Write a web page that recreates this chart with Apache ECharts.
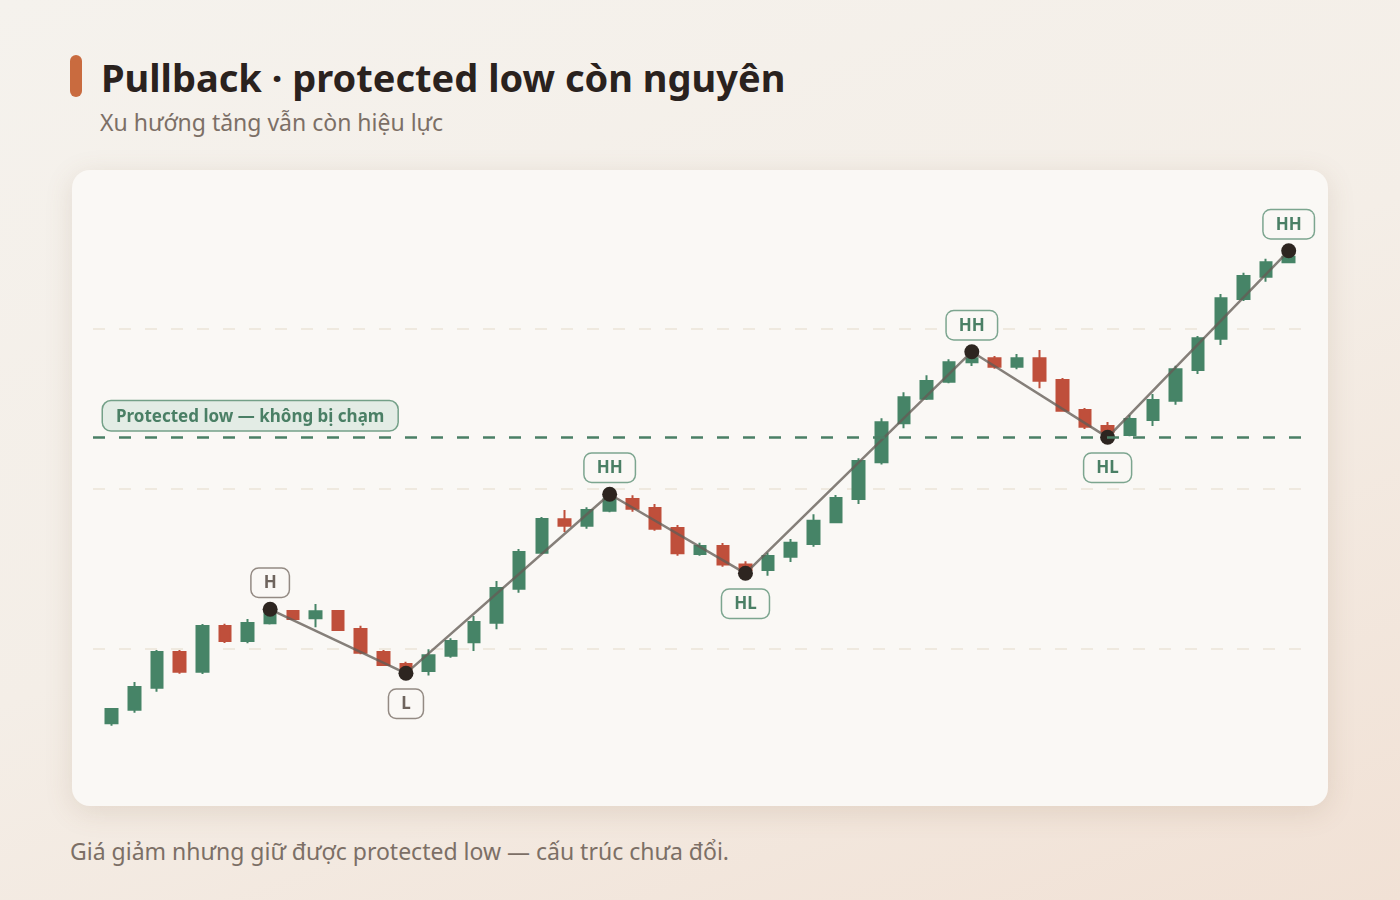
<!DOCTYPE html>
<html>
<head>
<meta charset="utf-8">
<script src="https://cdn.jsdelivr.net/npm/echarts@6/dist/echarts.min.js"></script>
<style>
	html, body { margin: 0; padding: 0; }
	body {
		width: 1400px; height: 900px; overflow: hidden; position: relative;
		font-family: "Noto Sans", sans-serif;
		background: linear-gradient(160deg, #f5f2ed 0%, #f4eee7 50%, #f1e1d5 100%);
	}
	.accent { position: absolute; left: 70px; top: 55px; width: 12px; height: 42px; border-radius: 6px; background: #c96b3f; }
	.title { position: absolute; left: 101px; top: 58px; font-size: 38px; line-height: 1; font-weight: 700; color: #2a221e; white-space: nowrap; }
	.subtitle { position: absolute; left: 100px; top: 111px; font-size: 23px; line-height: 1; color: #7c6f66; white-space: nowrap; }
	.card { position: absolute; left: 72px; top: 170px; width: 1256px; height: 636px; border-radius: 18px; background: #faf8f5; box-shadow: 0 6px 28px rgba(130, 95, 60, 0.15); }
	.footer { position: absolute; left: 70px; top: 840px; font-size: 23px; line-height: 1; color: #7c6f66; white-space: nowrap; }
	#MyChart { position: absolute; left: 0; top: 0; width: 1400px; height: 900px; }
</style>
</head>
<body>
<div class="accent"></div>
<div class="title">Pullback · protected low còn nguyên</div>
<div class="subtitle">Xu hướng tăng vẫn còn hiệu lực</div>
<div class="card"></div>
<div class="footer">Giá giảm nhưng giữ được protected low — cấu trúc chưa đổi.</div>
<div id="MyChart"></div>
<script>
// nến theo phiên
var categories = ['1', '2', '3', '4', '5', '6', '7', '8', '9', '10', '11', '12', '13', '14', '15', '16', '17', '18',
	'19', '20', '21', '22', '23', '24', '25', '26', '27', '28', '29', '30', '31', '32', '33', '34', '35', '36',
	'37', '38', '39', '40', '41', '42', '43', '44', '45', '46', '47', '48', '49', '50', '51', '52', '53'];
var opens = [95.36, 96.21, 97.58, 99.81, 98.58, 101.44, 100.50, 101.61, 102.38, 101.92, 102.38, 101.25, 99.81,
	99.06, 98.63, 99.58, 100.42, 101.64, 103.77, 106.02, 108.11, 107.71, 108.64, 109.38, 108.81, 107.56, 105.94,
	106.44, 105.28, 104.94, 105.77, 106.56, 107.92, 109.38, 111.67, 114.11, 115.64, 116.71, 117.92, 118.17, 117.64,
	118.17, 116.81, 114.94, 113.94, 113.38, 114.31, 115.52, 117.44, 119.39, 121.88, 123.27, 124.17];
var closes = [96.25, 97.63, 99.81, 98.58, 101.44, 100.50, 101.63, 102.27, 101.88, 102.36, 101.19, 99.77, 99.00,
	98.75, 99.61, 100.50, 101.69, 103.81, 106.06, 108.13, 107.71, 108.69, 109.36, 108.77, 107.52, 105.98, 106.44,
	105.28, 104.94, 105.81, 106.64, 108.02, 109.44, 111.75, 114.17, 115.73, 116.75, 117.92, 118.17, 117.64, 118.17,
	116.77, 114.89, 113.89, 113.56, 114.38, 115.56, 117.48, 119.42, 121.92, 123.31, 124.17, 124.52];
var lows = [95.21, 96.02, 97.33, 98.46, 98.44, 100.38, 100.36, 101.53, 101.84, 101.36, 101.14, 99.67, 98.94,
	98.48, 98.35, 99.46, 99.88, 101.23, 103.52, 105.94, 107.31, 107.52, 108.54, 108.58, 107.39, 105.83, 105.83,
	105.14, 104.73, 104.58, 105.44, 106.39, 107.86, 109.06, 111.53, 113.79, 115.56, 116.61, 117.69, 117.52, 117.48,
	116.29, 114.86, 113.75, 113.23, 113.30, 113.94, 115.27, 117.19, 119.00, 121.75, 122.96, 124.11];
var highs = [96.25, 97.94, 99.94, 99.94, 101.56, 101.58, 101.88, 102.48, 102.41, 102.81, 102.44, 101.46, 99.94,
	99.21, 99.98, 100.67, 102.06, 104.25, 106.25, 108.25, 108.69, 108.86, 109.67, 109.61, 109.06, 107.75, 106.64,
	106.63, 105.49, 106.02, 106.88, 108.42, 109.63, 111.92, 114.42, 116.04, 117.11, 118.11, 118.58, 118.31, 118.44,
	118.69, 116.94, 115.06, 114.19, 114.63, 115.94, 117.71, 119.56, 122.19, 123.52, 124.39, 124.89];

// đỉnh / đáy cấu trúc
var swingIdx = [7, 13, 22, 28, 38, 44, 52];
var swingVal = [102.48, 98.48, 109.67, 104.73, 118.58, 113.23, 124.89];
var swingTag = ['H', 'L', 'HH', 'HL', 'HH', 'HL', 'HH'];

var protectedLow = 113.23;
var protectedText = 'Protected low — không bị chạm';

var green = '#468467';
var red = '#bf4f3b';
var tagGreen = '#4a7f65';
var tagGray = '#6e645d';

var candles = [];
for (var i = 0; i < categories.length; i++) {
	candles.push([opens[i], closes[i], lows[i], highs[i]]);
}

var zigzag = [];
var dots = [];
for (var j = 0; j < swingIdx.length; j++) {
	zigzag.push([swingIdx[j], swingVal[j]]);
	var tag = swingTag[j];
	var isHigh = tag.charAt(tag.length - 1) === 'H';
	var isPlain = tag.length === 1;
	dots.push({
		value: [swingIdx[j], swingVal[j]],
		label: {
			show: true,
			formatter: tag,
			position: isHigh ? 'top' : 'bottom',
			distance: isHigh ? 5 : 9,
			color: isPlain ? tagGray : tagGreen,
			borderColor: isPlain ? '#938a83' : '#7ca58f',
			borderWidth: 1.5,
			borderRadius: 7,
			backgroundColor: '#faf8f5',
			padding: [6, 12, 5, 12],
			fontSize: 17,
			fontWeight: 'bold',
			fontFamily: 'Noto Sans'
		}
	});
}

var yAxisBase = {
	type: 'value',
	min: 90,
	max: 130,
	interval: 10,
	axisLine: { show: false },
	axisTick: { show: false },
	axisLabel: { show: false }
};

var option = {
	animation: false,
	grid: [
		{ left: 93, right: 97.5, top: 169, bottom: 91 },
		{ left: 100.4, right: 100, top: 169, bottom: 91 }
	],
	xAxis: [
		{ type: 'value', gridIndex: 0, min: 0, max: 1, show: false },
		{
			type: 'category', gridIndex: 1, data: categories, boundaryGap: true,
			axisLine: { show: false }, axisTick: { show: false }, axisLabel: { show: false }, splitLine: { show: false }
		}
	],
	yAxis: [
		Object.assign({}, yAxisBase, {
			gridIndex: 0,
			splitLine: {
				show: true, showMinLine: false, showMaxLine: false,
				lineStyle: { color: '#ebe3d8', width: 1.5, type: [12, 14] }
			}
		}),
		Object.assign({}, yAxisBase, { gridIndex: 1, splitLine: { show: false } })
	],
	series: [{
			type: 'line',
			xAxisIndex: 0,
			yAxisIndex: 0,
			data: [],
			silent: true,
			markLine: {
				symbol: 'none',
				silent: true,
				lineStyle: { color: tagGreen, width: 2.5, type: [12, 14] },
				label: {
					show: true,
					position: 'insideStartTop',
					distance: [10, 7],
					formatter: protectedText,
					color: tagGreen,
					fontSize: 17,
					fontWeight: 'bold',
					fontFamily: 'Noto Sans',
					backgroundColor: '#e3ece5',
					borderColor: '#74a088',
					borderWidth: 1.5,
					borderRadius: 8,
					padding: [7, 13, 5, 13]
				},
				data: [{ yAxis: protectedLow }]
			}
		},
		{
			type: 'candlestick',
			xAxisIndex: 1,
			yAxisIndex: 1,
			data: candles,
			barWidth: 12,
			itemStyle: {
				color: green,
				color0: red,
				borderColor: green,
				borderColor0: red,
				borderWidth: 2
			}
		},
		{
			type: 'line',
			xAxisIndex: 1,
			yAxisIndex: 1,
			data: zigzag,
			symbol: 'none',
			z: 3,
			lineStyle: { color: 'rgba(100, 92, 86, 0.78)', width: 2.5 }
		},
		{
			type: 'scatter',
			xAxisIndex: 1,
			yAxisIndex: 1,
			data: dots,
			symbolSize: 15,
			z: 4,
			itemStyle: { color: '#2d2520', opacity: 1 }
		}
	]
};

var myChart1 = echarts.init(document.getElementById('MyChart'));
myChart1.setOption(option);
</script>
</body>
</html>
